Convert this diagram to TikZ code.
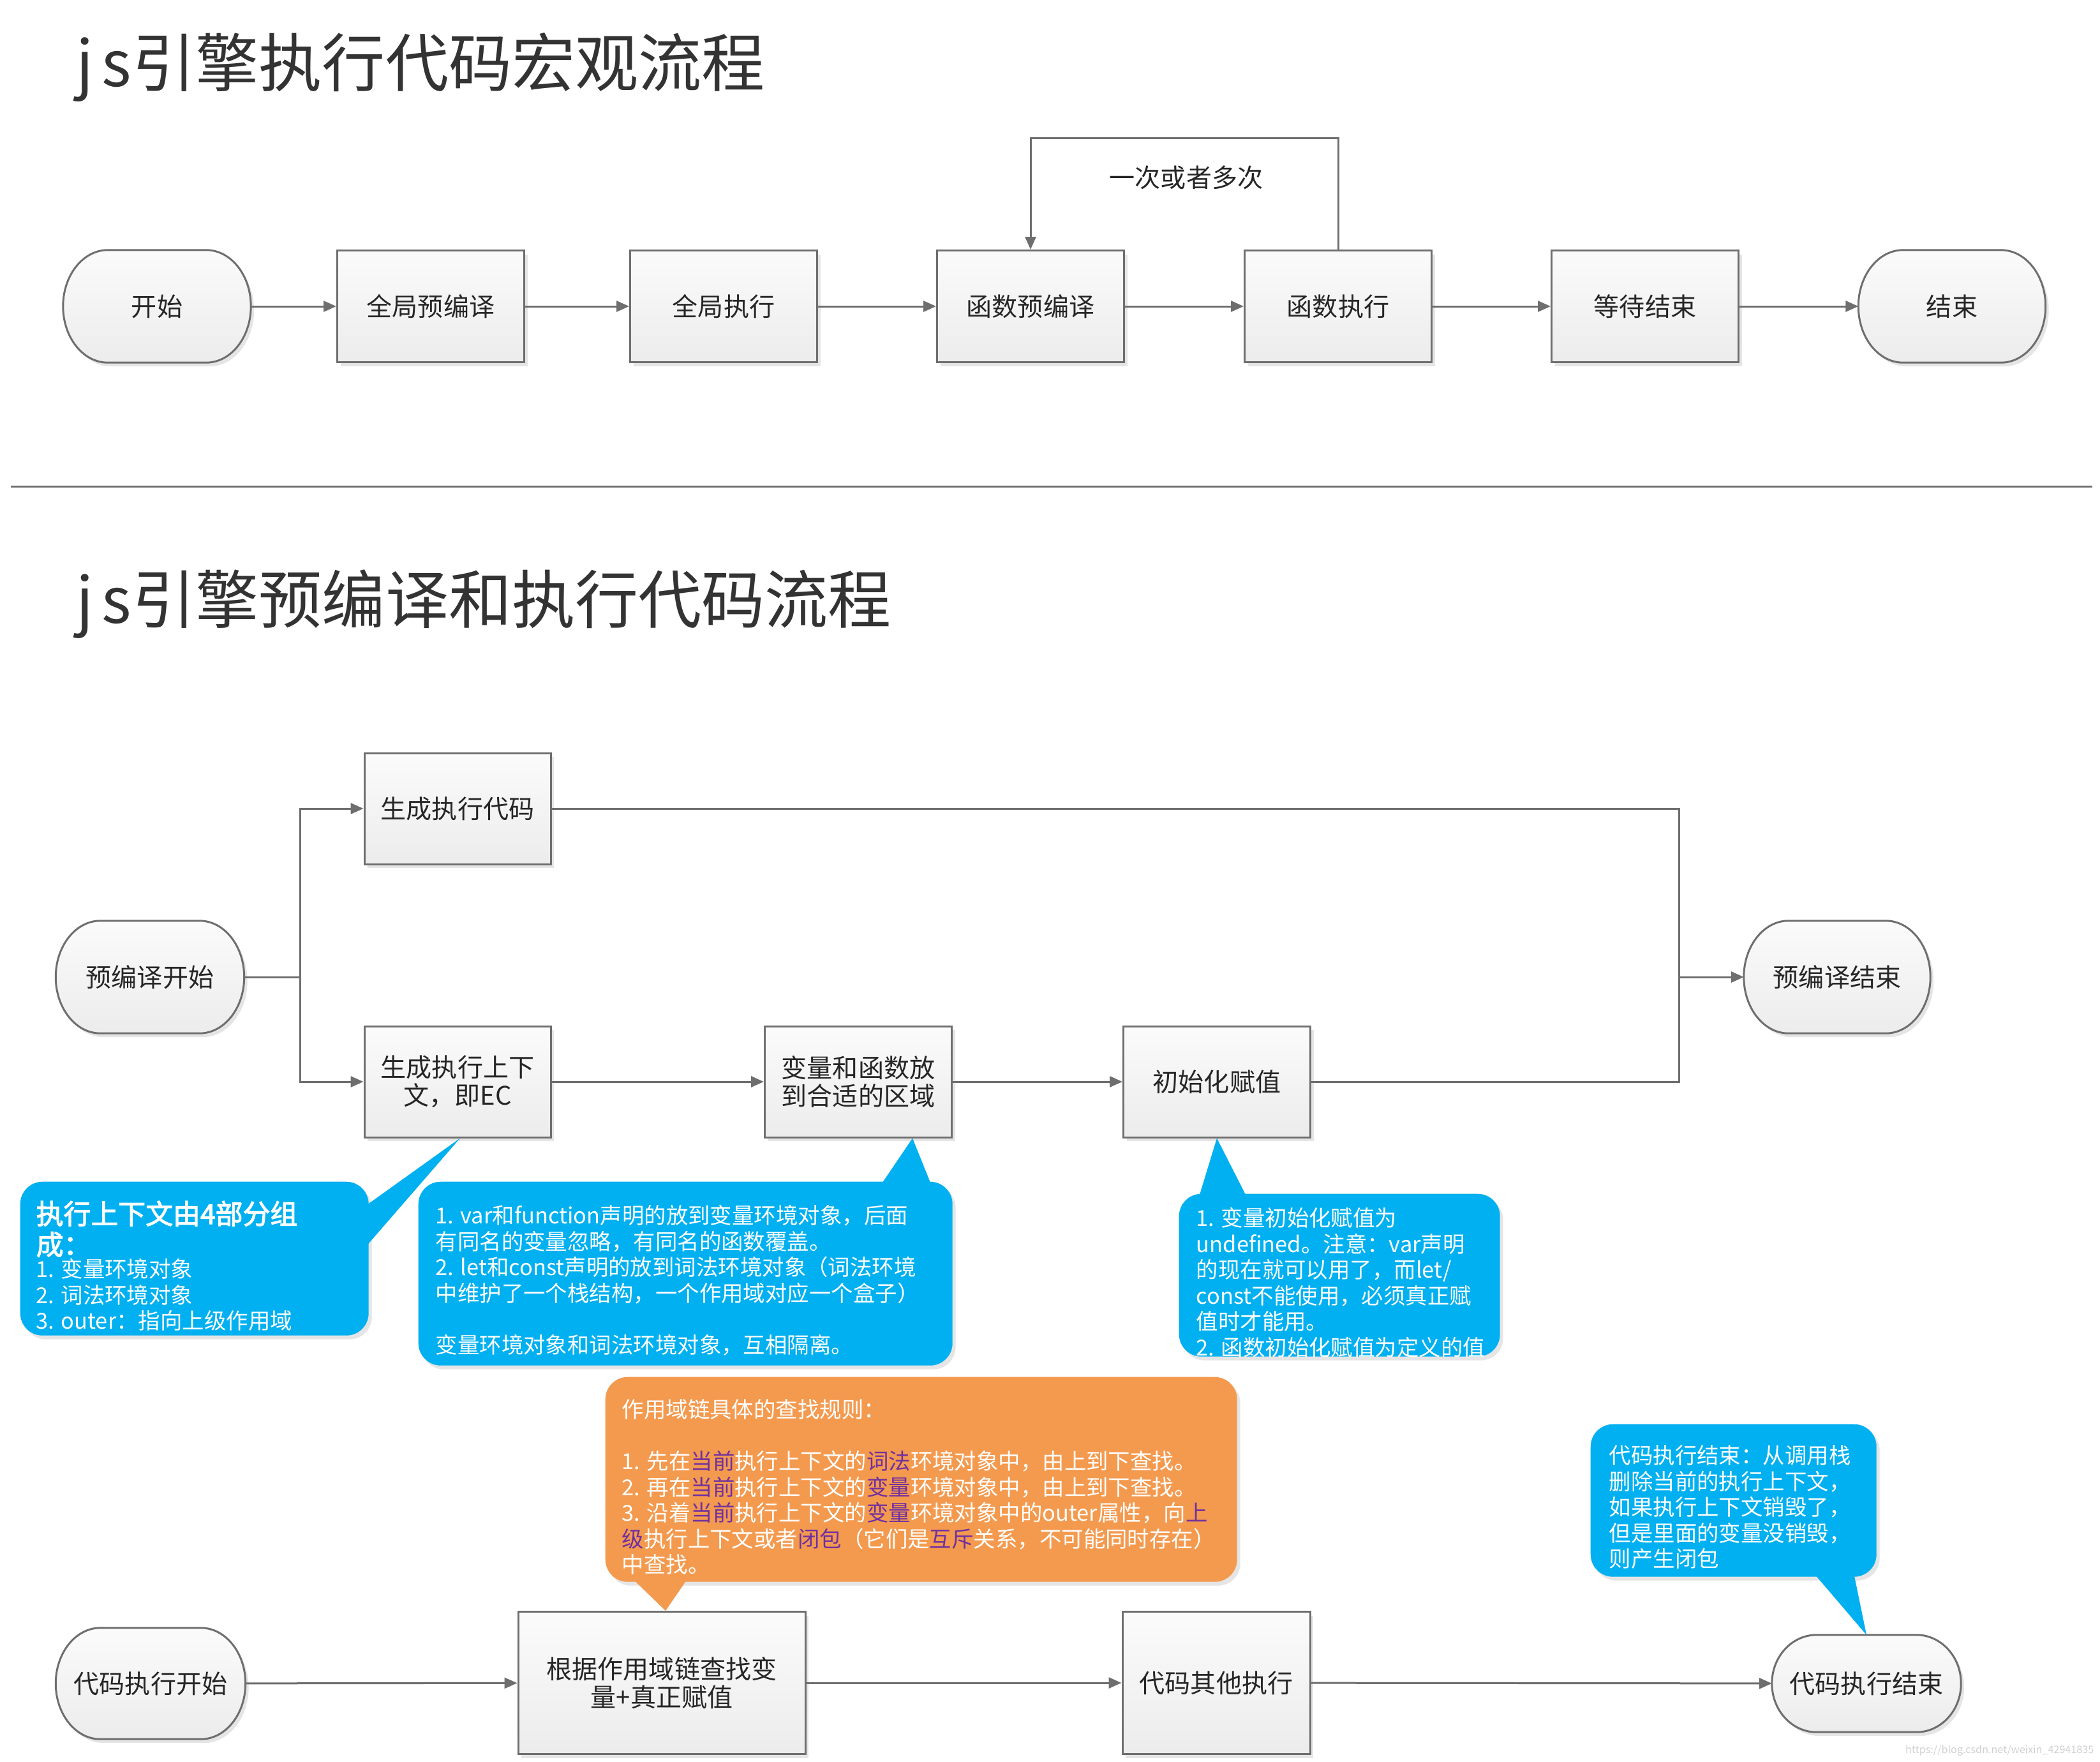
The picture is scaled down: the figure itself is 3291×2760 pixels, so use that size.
\documentclass[tikz,border=0pt]{standalone}
\usepackage{fontspec}
\setmainfont{Noto Sans CJK SC}[AutoFakeBold=2.5]
\usetikzlibrary{arrows.meta,shadows,calc}
\pgfdeclarelayer{paper}
\pgfdeclarelayer{under}
\pgfsetlayers{paper,under,main}

\definecolor{linec}{HTML}{6E6E6E}
\definecolor{txtc}{HTML}{262626}
\definecolor{titlec}{HTML}{333333}
\definecolor{boxtop}{HTML}{FBFBFB}
\definecolor{boxbot}{HTML}{ECECEC}
\definecolor{noteblue}{HTML}{00B0F0}
\definecolor{noteorange}{HTML}{F49A4F}
\definecolor{hlc}{HTML}{7030A0}

% font sizes (1 unit = 0.1mm)
\newcommand\bxfont{\fontsize{11.4}{12.4}\selectfont}
\newcommand\ttlfont{\fontsize{28.2}{30}\selectfont}
\newcommand\ntfont{\fontsize{9.8}{11.52}\selectfont}
\newcommand\nthfont{\fontsize{12.2}{13.7}\selectfont\bfseries}
\newcommand\hlt[1]{\textcolor{hlc}{#1}}
% half-width cells for the Latin letters of the titles
\newcommand\halfw[1]{\makebox[4.95mm][c]{#1}}

\tikzset{
  x=0.1mm, y=-0.1mm,
  boxlook/.style={draw=linec, line width=0.3mm, top color=boxtop, bottom color=boxbot,
    drop shadow={shadow xshift=0.5mm, shadow yshift=-0.6mm, fill=black, opacity=0.10}},
  proc/.style={boxlook, rectangle, inner sep=0pt, minimum width=29.3mm,
    minimum height=17.5mm, align=center, font=\bxfont, text=txtc},
  term/.style={rectangle, inner sep=0pt, minimum width=29.3mm, minimum height=17.5mm,
    align=center, font=\bxfont, text=txtc},
  link/.style={draw=linec, line width=0.3mm},
  flow/.style={link, -{Triangle[length=2mm,width=1.7mm]}},
  notebox/.style={rectangle, rounded corners=3.5mm, inner sep=0pt, anchor=north west,
    drop shadow={shadow xshift=0.5mm, shadow yshift=-0.6mm, fill=black, opacity=0.10}},
  bluenote/.style={notebox, fill=noteblue},
  orangenote/.style={notebox, fill=noteorange},
  notetext/.style={anchor=north west, inner sep=0pt, align=left, text=white, font=\ntfont},
  titletext/.style={anchor=base west, inner sep=0pt, font=\ttlfont, text=titlec},
}

% terminal outline: flat top and bottom, elliptical ends
\newcommand\termoutline[2]{%
  \begin{pgfonlayer}{under}
    \path[boxlook] let \p1=(#1.north), \p2=(#1.south), \n1={(\y1-\y2)/2} in
      ($(#1.north west)+(#2,0)$) -- ($(#1.north east)+(-#2,0)$)
      arc[start angle=90, end angle=-90, x radius=#2, y radius=\n1]
      -- ($(#1.south west)+(#2,0)$)
      arc[start angle=270, end angle=90, x radius=#2, y radius=\n1] -- cycle;
  \end{pgfonlayer}}

\begin{document}
\begin{tikzpicture}
\begin{pgfonlayer}{paper}
  \path[use as bounding box, fill=white] (0,0) rectangle (3291,2760);
\end{pgfonlayer}

% ---------- titles and separator ----------
\node[titletext] (title1) at (108,136) {\halfw{j}\halfw{s}引擎执行代码宏观流程};
\node[titletext] (title2) at (108,976) {\halfw{j}\halfw{s}引擎预编译和执行代码流程};
\draw[link] (17,762) -- (3279,762);

% ---------- overall flow ----------
\node[term] (start) at (246,480) {开始};
\node[proc] (gpre)  at (675,480) {全局预编译};
\node[proc] (gexe)  at (1134,480) {全局执行};
\node[proc] (fpre)  at (1615,480) {函数预编译};
\node[proc] (fexe)  at (2097,480) {函数执行};
\node[proc] (wait)  at (2578,480) {等待结束};
\node[term, minimum width=29.2mm] (stop) at (3059,480) {结束};
\termoutline{start}{7mm}
\termoutline{stop}{7mm}

\draw[flow] (start) -- (gpre);
\draw[flow] (gpre) -- (gexe);
\draw[flow] (gexe) -- (fpre);
\draw[flow] (fpre) -- (fexe);
\draw[flow] (fexe) -- (wait);
\draw[flow] (wait) -- (stop);
\draw[flow] (fexe.north) -- ++(0,-175) -| (fpre.north);
\node[font=\bxfont, text=txtc, inner sep=0pt] (times) at (1859,278) {一次或者多次};

% ---------- pre-compilation flow ----------
\node[term, minimum width=29.4mm, minimum height=17.5mm] (pstart) at (235,1531) {预编译开始};
\node[proc, minimum width=29.2mm, minimum height=17.4mm] (gcode) at (717,1267) {生成执行代码};
\node[proc, minimum width=29.2mm, minimum height=17.4mm] (ec) at (717,1695) {生成执行上下\\文，即EC};
\node[proc, minimum width=29.3mm, minimum height=17.4mm] (varfn) at (1345,1695) {变量和函数放\\到合适的区域};
\node[proc, minimum width=29.3mm, minimum height=17.4mm] (init) at (1907,1695) {初始化赋值};
\node[term, minimum width=29.1mm, minimum height=17.5mm] (pend) at (2879,1531) {预编译结束};
\termoutline{pstart}{7mm}
\termoutline{pend}{7mm}

\coordinate (split) at (470,1531);
\coordinate (merge) at (2631,1531);
\draw[link] (pstart) -- (split);
\draw[flow] (split) |- (gcode.west);
\draw[flow] (split) |- (ec.west);
\draw[flow] (ec) -- (varfn);
\draw[flow] (varfn) -- (init);
\draw[link] (gcode.east) -| (merge);
\draw[link] (init.east) -| (merge);
\draw[flow] (merge) -- (pend);

% ---------- execution flow ----------
\node[term, minimum width=29.6mm, minimum height=17.3mm] (cstart) at (236,2638) {代码执行开始};
\node[proc, minimum width=45mm, minimum height=22.3mm] (lookup) at (1037,2637) {根据作用域链查找变\\量+真正赋值};
\node[proc, minimum width=29.4mm, minimum height=22.3mm] (other) at (1906,2637) {代码其他执行};
\node[term, minimum width=29.5mm, minimum height=15.1mm] (cend) at (2925,2638) {代码执行结束};
\termoutline{cstart}{7mm}
\termoutline{cend}{7mm}

\draw[flow] (cstart) -- (lookup);
\draw[flow] (lookup) -- (other);
\draw[flow] (other) -- (cend);

% ---------- notes ----------
\node[bluenote, minimum width=54.6mm, minimum height=24.1mm] (noteA) at (31,1851) {};
\fill[noteblue] ($(noteA.north east)+(-2,36)$) -- ($(noteA.north east)+(-2,99)$) -- ($(ec.south)+(4,0)$) -- cycle;

\node[bluenote, minimum width=83.7mm, minimum height=28.8mm] (noteB) at (655,1851) {};
\fill[noteblue] ($(noteB.north west)+(728,2)$) -- ($(noteB.north west)+(803,2)$) -- ($(varfn.south)+(85,0)$) -- cycle;

\node[bluenote, minimum width=50.3mm, minimum height=25.5mm] (noteC) at (1847,1870) {};
\fill[noteblue] ($(noteC.north west)+(33,2)$) -- ($(noteC.north west)+(105,2)$) -- (init.south) -- cycle;

\node[orangenote, minimum width=99mm, minimum height=32.1mm] (noteD) at (948,2157) {};
\fill[noteorange] ($(noteD.south west)+(47,-2)$) -- ($(noteD.south west)+(127,-2)$) -- ($(lookup.north)+(6,0)$) -- cycle;

\node[bluenote, minimum width=44.8mm, minimum height=23.9mm] (noteE) at (2492,2231) {};
\fill[noteblue] ($(noteE.south west)+(354,-2)$) -- ($(noteE.south west)+(414,-2)$) -- (cend.north) -- cycle;

\node[notetext, font=\nthfont] (noteAhead) at (56,1881) {执行上下文由4部分组\\成：};
\node[notetext] (noteAbody) at (56,1972) {1. 变量环境对象\\2. 词法环境对象\\3. outer：指向上级作用域};

\node[notetext] (noteBtext) at (682,1888) {1. var和function声明的放到变量环境对象，后面\\
有同名的变量忽略，有同名的函数覆盖。\\
2. let和const声明的放到词法环境对象（词法环境\\
中维护了一个栈结构，一个作用域对应一个盒子）\\[11.52pt]
变量环境对象和词法环境对象，互相隔离。};

\node[notetext] (noteCtext) at (1874,1892) {1. 变量初始化赋值为\\
undefined。注意：var声明\\
的现在就可以用了，而let/\\
const不能使用，必须真正赋\\
值时才能用。\\
2. 函数初始化赋值为定义的值};

\node[notetext] (noteDtext) at (974,2192) {作用域链具体的查找规则：\\[11.52pt]
1. 先在\hlt{当前}执行上下文的\hlt{词法}环境对象中，由上到下查找。\\
2. 再在\hlt{当前}执行上下文的\hlt{变量}环境对象中，由上到下查找。\\
3. 沿着\hlt{当前}执行上下文的\hlt{变量}环境对象中的outer属性，向\hlt{上}\\
\hlt{级}执行上下文或者\hlt{闭包}（它们是\hlt{互斥}关系，不可能同时存在）\\
中查找。};

\node[notetext] (noteEtext) at (2521,2264) {代码执行结束：从调用栈\\
删除当前的执行上下文，\\
如果执行上下文销毁了，\\
但是里面的变量没销毁，\\
则产生闭包};

\node[anchor=south east, inner sep=0pt, text=black!18, font=\fontsize{4.6}{5}\selectfont] (mark) at (3282,2752) {https://blog.csdn.net/weixin\_42941835};
\end{tikzpicture}
\end{document}
